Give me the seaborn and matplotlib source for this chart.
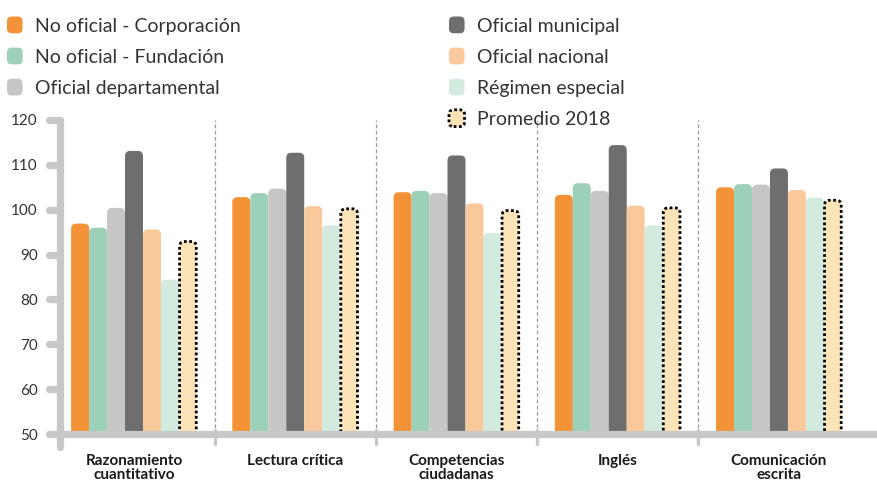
import numpy as np
import pandas as pd
import matplotlib
matplotlib.use("Agg")
import matplotlib.pyplot as plt
import seaborn as sns
from matplotlib.patches import FancyBboxPatch, Patch
from matplotlib.legend_handler import HandlerPatch
import matplotlib.transforms as mtransforms

# ---------------- data ----------------
categorias = ["Razonamiento\ncuantitativo", "Lectura crítica",
              "Competencias\nciudadanas", "Inglés", "Comunicación\nescrita"]
tipos = ["No oficial - Corporación", "No oficial - Fundación", "Oficial departamental",
         "Oficial municipal", "Oficial nacional", "Régimen especial", "Promedio 2018"]
corporacion = [96.9, 102.8, 103.9, 103.3, 105.0]
fundacion = [96.0, 103.7, 104.2, 105.9, 105.7]
departamental = [100.4, 104.7, 103.7, 104.2, 105.6]
municipal = [113.1, 112.7, 112.1, 114.4, 109.2]
nacional = [95.6, 100.8, 101.4, 100.9, 104.4]
especial = [84.4, 96.5, 94.8, 96.5, 102.7]
promedio = [92.9, 100.2, 99.8, 100.4, 102.1]
y_ticks = [50, 60, 70, 80, 90, 100, 110, 120]

colores = ["#f39237", "#9dd0b8", "#c6c6c6", "#6e6e6e", "#f9c99b", "#d3eadf", "#fde4b8"]

series = [corporacion, fundacion, departamental, municipal, nacional, especial, promedio]
rows = []
for t, vals in zip(tipos, series):
    for c, v in zip(categorias, vals):
        rows.append({"categoria": c, "tipo": t, "valor": v})
df = pd.DataFrame(rows)

# ---------------- figure ----------------
sns.set_style("white")
plt.rcParams["font.family"] = ["Lato", "DejaVu Sans"]

W, H = 877, 483
fig = plt.figure(figsize=(W / 100, H / 100), dpi=100)
ax_left, ax_right, ax_bottom, ax_top = 60, 877, 434, 120
ax = fig.add_axes([ax_left / W, 1 - ax_bottom / H, (ax_right - ax_left) / W, (ax_bottom - ax_top) / H])

sns.barplot(data=df, x="categoria", y="valor", hue="tipo", order=categorias,
            hue_order=tipos, palette=colores, saturation=1, width=0.78,
            legend=False, ax=ax)

ax.set_xlim(-0.459, 4.608)
ax.set_ylim(50, 120)

# pixel scales for rounding
px_x = (ax_right - ax_left) / (4.608 + 0.459)
px_y = (ax_bottom - ax_top) / 70.0
asp = (1 / px_y) / (1 / px_x)
r = 5.0 / px_x

for i, cont in enumerate(ax.containers):
    for rect in cont:
        x, w, h = rect.get_x(), rect.get_width(), rect.get_height()
        rect.set_visible(False)
        if i == len(ax.containers) - 1:
            p = FancyBboxPatch((x + 0.004, 45), w - 0.008, h - 45,
                               boxstyle=f"round,pad=0,rounding_size={r}",
                               mutation_aspect=asp, facecolor=colores[i],
                               edgecolor="black", linewidth=2.0,
                               linestyle=(0, (1.0, 0.9)), zorder=3)
        else:
            p = FancyBboxPatch((x, 45), w, h - 45,
                               boxstyle=f"round,pad=0,rounding_size={r}",
                               mutation_aspect=asp, facecolor=colores[i],
                               edgecolor="none", zorder=3)
        ax.add_patch(p)

# separators
for s in np.arange(0.5, len(categorias) - 0.5, 1.0):
    ax.axvline(s, color="#9a9a9a", lw=0.9, ls=(0, (3, 2)), zorder=1)

# spines replaced by thick rounded gray lines
for sp in ax.spines.values():
    sp.set_visible(False)
axis_col = "#c8c8c8"
ax.plot([0, 0], [-0.041, 1.0], transform=ax.transAxes, color=axis_col, lw=5.2,
        solid_capstyle="round", clip_on=False, zorder=5)
ax.plot([-0.012, 1.01], [0, 0], transform=ax.transAxes, color=axis_col, lw=5.2,
        solid_capstyle="round", clip_on=False, zorder=5)
blend = mtransforms.blended_transform_factory(ax.transAxes, ax.transData)
for v in y_ticks:
    ax.plot([-0.0135, 0], [v, v], transform=blend, color=axis_col, lw=5.2,
            solid_capstyle="round", clip_on=False, zorder=5)
blend2 = mtransforms.blended_transform_factory(ax.transData, ax.transAxes)
for s in np.arange(0.5, len(categorias) - 0.5, 1.0):
    ax.plot([s, s], [-0.033, 0.012], transform=blend2, color=axis_col, lw=2.4,
            solid_capstyle="round", clip_on=False, zorder=5)

ax.set_yticks(y_ticks)
ax.set_yticklabels([str(v) for v in y_ticks])
ax.tick_params(axis="y", length=0, pad=16, labelsize=11, labelcolor="#333333")
ax.tick_params(axis="x", length=0, pad=14.5, labelsize=11, labelcolor="#1a1a1a")
for lab in ax.get_xticklabels():
    lab.set_fontweight("bold")
    lab.set_linespacing(1.02)
ax.set_xlabel("")
ax.set_ylabel("")


# ---------------- legend ----------------
class RoundHandler(HandlerPatch):
    def create_artists(self, legend, orig_handle, xdescent, ydescent, width, height, fontsize, trans):
        p = FancyBboxPatch((-xdescent, -ydescent), width, height,
                           boxstyle=f"round,pad=0,rounding_size={width * 0.3}")
        self.update_prop(p, orig_handle, legend)
        p.set_transform(trans)
        return [p]


handles = []
for i, t in enumerate(tipos):
    if i == len(tipos) - 1:
        handles.append(Patch(facecolor=colores[i], edgecolor="black", linewidth=2.0,
                             linestyle=(0, (1.0, 0.9)), label=t))
    else:
        handles.append(Patch(facecolor=colores[i], edgecolor="none", label=t))

leg_kw = dict(frameon=False, fontsize=14, borderpad=0, borderaxespad=0,
              handlelength=0.8, handleheight=0.95, handletextpad=0.62,
              labelspacing=0.67, labelcolor="#333333",
              handler_map={Patch: RoundHandler()})
leg1 = fig.legend(handles=handles[:3], loc="upper left",
                  bbox_to_anchor=(7 / W, 1 - 16.5 / H), **leg_kw)
leg2 = fig.legend(handles=handles[3:], loc="upper left",
                  bbox_to_anchor=(449 / W, 1 - 16.5 / H), **leg_kw)

fig.savefig("out.png", dpi=100)
